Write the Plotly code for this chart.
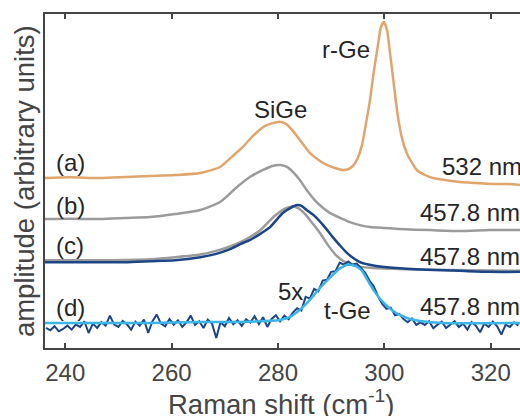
import plotly.graph_objects as go

# ---- data (Raman shift in cm^-1, amplitude in arbitrary units, curves offset) ----
shift_a = [236.2, 240.9, 246.6, 251.3, 256.0, 260.7, 265.4, 269.1, 271.5, 273.4, 275.3, 277.6,
           280.0, 281.5, 282.8, 284.1, 286.0, 287.9, 289.2, 290.7, 292.2, 293.3, 294.1, 295.0,
           295.8, 296.5, 297.3, 298.0, 298.8, 299.3, 299.9, 300.5, 301.0, 301.8, 302.5, 303.3,
           304.2, 305.2, 306.1, 307.6, 309.1, 311.4, 314.2, 317.0, 320.4, 323.2, 325.5]
amp_a = [5.09, 5.11, 5.09, 5.12, 5.15, 5.18, 5.24, 5.42, 5.75, 6.02, 6.35, 6.65,
         6.77, 6.71, 6.50, 6.23, 5.84, 5.60, 5.48, 5.39, 5.33, 5.36, 5.45, 5.69,
         6.08, 6.68, 7.43, 8.26, 9.07, 9.58, 9.76, 9.52, 8.92, 7.87, 6.98, 6.29,
         5.84, 5.54, 5.33, 5.18, 5.09, 5.03, 4.97, 4.94, 4.91, 4.91, 4.88]

shift_b = [236.2, 240.9, 246.6, 251.3, 256.0, 260.7, 265.4, 269.1, 272.3, 274.7, 277.2, 278.9,
           280.4, 281.7, 282.8, 284.1, 285.4, 286.9, 288.5, 289.8, 292.2, 293.5, 295.4, 297.3,
           300.1, 302.9, 308.5, 314.2, 319.8, 325.5]
amp_b = [3.86, 3.87, 3.86, 3.89, 3.92, 4.01, 4.13, 4.37, 4.82, 5.12, 5.33, 5.45,
         5.48, 5.42, 5.27, 5.03, 4.73, 4.43, 4.19, 4.04, 3.86, 3.77, 3.68, 3.62,
         3.59, 3.56, 3.53, 3.50, 3.53, 3.53]

shift_c_ref = [236.2, 246.6, 256.0, 260.7, 265.4, 268.2, 271.0, 273.8, 276.6, 279.4, 281.3, 282.6,
               283.8, 285.1, 286.6, 287.9, 289.4, 290.9, 292.6, 294.5, 297.3, 301.6, 308.5, 325.5]
amp_c_ref = [2.63, 2.63, 2.66, 2.72, 2.80, 2.90, 3.04, 3.24, 3.52, 3.96, 4.17, 4.24,
             4.19, 4.01, 3.71, 3.44, 3.08, 2.78, 2.57, 2.46, 2.40, 2.37, 2.34, 2.31]

shift_c = [236.2, 240.9, 246.6, 251.3, 256.0, 260.7, 265.4, 268.2, 271.0, 272.9, 274.7, 276.6,
           278.5, 280.9, 282.3, 283.6, 284.5, 285.4, 286.9, 288.5, 290.3, 291.6, 293.0, 295.4,
           298.2, 301.6, 308.0, 314.2, 319.8, 325.5]
amp_c = [2.57, 2.57, 2.57, 2.57, 2.60, 2.63, 2.72, 2.81, 2.96, 3.11, 3.23, 3.41,
         3.62, 4.04, 4.19, 4.28, 4.25, 4.13, 3.95, 3.68, 3.32, 3.08, 2.84, 2.57,
         2.46, 2.40, 2.34, 2.31, 2.28, 2.28]

shift_d = [236.4, 237.2, 238.0, 238.8, 239.6, 240.4, 241.2, 242.0, 242.8, 243.6, 244.4, 245.2,
           246.0, 246.8, 247.6, 248.4, 249.2, 250.0, 250.8, 251.6, 252.4, 253.2, 254.0, 254.8,
           255.6, 256.4, 257.2, 258.0, 258.8, 259.6, 260.4, 261.2, 262.0, 262.8, 263.6, 264.4,
           265.2, 266.0, 266.8, 267.6, 268.4, 269.2, 270.0, 270.8, 271.6, 272.4, 273.2, 274.0,
           274.8, 275.6, 276.4, 277.2, 278.0, 278.8, 279.6, 280.4, 281.2, 282.0, 282.8, 283.6,
           284.4, 285.2, 286.0, 286.8, 287.6, 288.4, 289.2, 290.0, 290.8, 291.6, 292.4, 293.2,
           294.0, 294.8, 295.6, 296.4, 297.2, 298.0, 298.8, 299.6, 300.4, 301.2, 302.0, 302.8,
           303.6, 304.4, 305.2, 306.0, 306.8, 307.6, 308.4, 309.2, 310.0, 310.8, 311.6, 312.4,
           313.2, 314.0, 314.8, 315.6, 316.4, 317.2, 318.0, 318.8, 319.6, 320.4, 321.2, 322.0,
           322.8, 323.6, 324.4, 325.2]
amp_d = [0.60, 0.53, 0.65, 0.50, 0.57, 0.67, 0.55, 0.70, 0.63, 0.80, 0.45, 0.73,
         0.60, 0.77, 0.67, 0.97, 0.70, 0.63, 0.81, 0.71, 0.55, 0.79, 0.67, 0.85,
         0.45, 0.80, 1.00, 0.73, 0.65, 0.87, 0.70, 0.83, 0.63, 0.77, 0.97, 0.69,
         0.80, 0.60, 0.85, 0.73, 0.30, 0.78, 0.65, 0.90, 0.71, 0.83, 0.66, 0.86,
         0.76, 0.95, 0.72, 0.92, 0.63, 0.87, 0.98, 0.80, 0.97, 0.86, 1.06, 1.19,
         1.12, 1.53, 1.48, 1.77, 1.70, 2.02, 2.04, 2.28, 2.30, 2.55, 2.50, 2.59,
         2.50, 2.53, 2.40, 2.25, 2.02, 1.85, 1.55, 1.32, 1.17, 1.21, 0.98, 1.02,
         0.87, 0.77, 0.88, 0.69, 0.77, 0.69, 0.80, 0.59, 0.70, 0.79, 0.60, 0.71,
         0.80, 0.63, 0.73, 0.55, 0.78, 0.67, 0.47, 0.73, 0.63, 0.79, 0.65, 0.40,
         0.70, 0.63, 0.77, 0.67]

shift_fit = [236.2, 246.6, 256.0, 265.4, 272.9, 277.6, 280.4, 282.3, 284.1, 286.0, 287.9, 290.3,
             291.8, 293.1, 294.5, 295.8, 296.7, 298.2, 299.7, 301.4, 302.9, 304.8, 306.7, 311.0,
             325.5]
amp_fit = [0.75, 0.75, 0.75, 0.78, 0.78, 0.81, 0.84, 0.93, 1.14, 1.44, 1.80, 2.19,
           2.40, 2.49, 2.46, 2.31, 2.07, 1.68, 1.38, 1.14, 0.99, 0.87, 0.81, 0.75,
           0.75]

tick_vals = [240, 260, 280, 300, 320]
tick_text = ["240", "260", "280", "300", "320"]

ORANGE = "#E0A56D"
GRAY = "#9B9B9B"
DBLUE = "#1C4585"
LBLUE = "#3BB4E8"
AXC = "#454545"
TXT = "#262626"
FONT = "Liberation Sans, Arial, Helvetica, sans-serif"

fig = go.Figure()
fig.add_trace(go.Scatter(x=shift_a, y=amp_a, mode="lines",
                         line=dict(color=ORANGE, width=2.5, shape="spline", smoothing=0.6)))
fig.add_trace(go.Scatter(x=shift_b, y=amp_b, mode="lines",
                         line=dict(color=GRAY, width=2.5, shape="spline", smoothing=0.6)))
fig.add_trace(go.Scatter(x=shift_c_ref, y=amp_c_ref, mode="lines",
                         line=dict(color=GRAY, width=2.5, shape="spline", smoothing=0.6)))
fig.add_trace(go.Scatter(x=shift_c, y=amp_c, mode="lines",
                         line=dict(color=DBLUE, width=2.5, shape="spline", smoothing=0.6)))
fig.add_trace(go.Scatter(x=shift_d, y=amp_d, mode="lines",
                         line=dict(color=DBLUE, width=2)))
fig.add_trace(go.Scatter(x=shift_fit, y=amp_fit, mode="lines",
                         line=dict(color=LBLUE, width=2.5, shape="spline", smoothing=0.8)))

ann = []
def label(text, x, y, xanchor="left", size=24):
    ann.append(dict(text=text, x=x, y=y, xref="x", yref="y", xanchor=xanchor,
                    yanchor="middle", showarrow=False,
                    font=dict(family=FONT, size=size, color=TXT)))

label("(a)", 237.9, 5.54)
label("(b)", 237.9, 4.28)
label("(c)", 237.9, 3.08)
label("(d)", 237.9, 1.20)
label("SiGe", 280.4, 7.13, "center")
label("r-Ge", 292.8, 8.95, "center")
label("532 nm", 310.4, 5.42)
label("457.8 nm", 306.4, 4.07)
label("457.8 nm", 306.4, 2.75)
label("457.8 nm", 306.4, 1.23)
label("5x", 282.4, 1.68, "center")
label("t-Ge", 293.0, 1.11, "center")

ann.append(dict(text="amplitude (arbitrary units)", textangle=-90, x=-0.044, y=0.5,
                xref="paper", yref="paper", xanchor="center", yanchor="middle",
                showarrow=False, font=dict(family=FONT, size=27.5, color=AXC)))
ann.append(dict(text="Raman shift (cm<sup>-1</sup>)", x=0.496, y=-0.104,
                xref="paper", yref="paper", xanchor="center", yanchor="top",
                showarrow=False, font=dict(family=FONT, size=27.5, color=AXC)))

fig.update_layout(
    width=520, height=416,
    margin=dict(l=45, r=0, t=14, b=68),
    paper_bgcolor="white", plot_bgcolor="white",
    showlegend=False,
    annotations=ann,
    xaxis=dict(range=[236.2, 325.5], tickvals=tick_vals, ticktext=tick_text,
               ticks="inside", ticklen=5, tickwidth=1.5, tickcolor=AXC,
               showline=True, linecolor=AXC, linewidth=2, mirror="ticks",
               showgrid=False, zeroline=False, ticklabelstandoff=2,
               tickfont=dict(family=FONT, size=24, color=AXC)),
    yaxis=dict(range=[0, 10], showticklabels=False, ticks="",
               showline=True, linecolor=AXC, linewidth=2, mirror=False,
               showgrid=False, zeroline=False),
)

fig.write_html("out.html", config={"displayModeBar": False},
               post_script="document.body.style.margin='0';")
